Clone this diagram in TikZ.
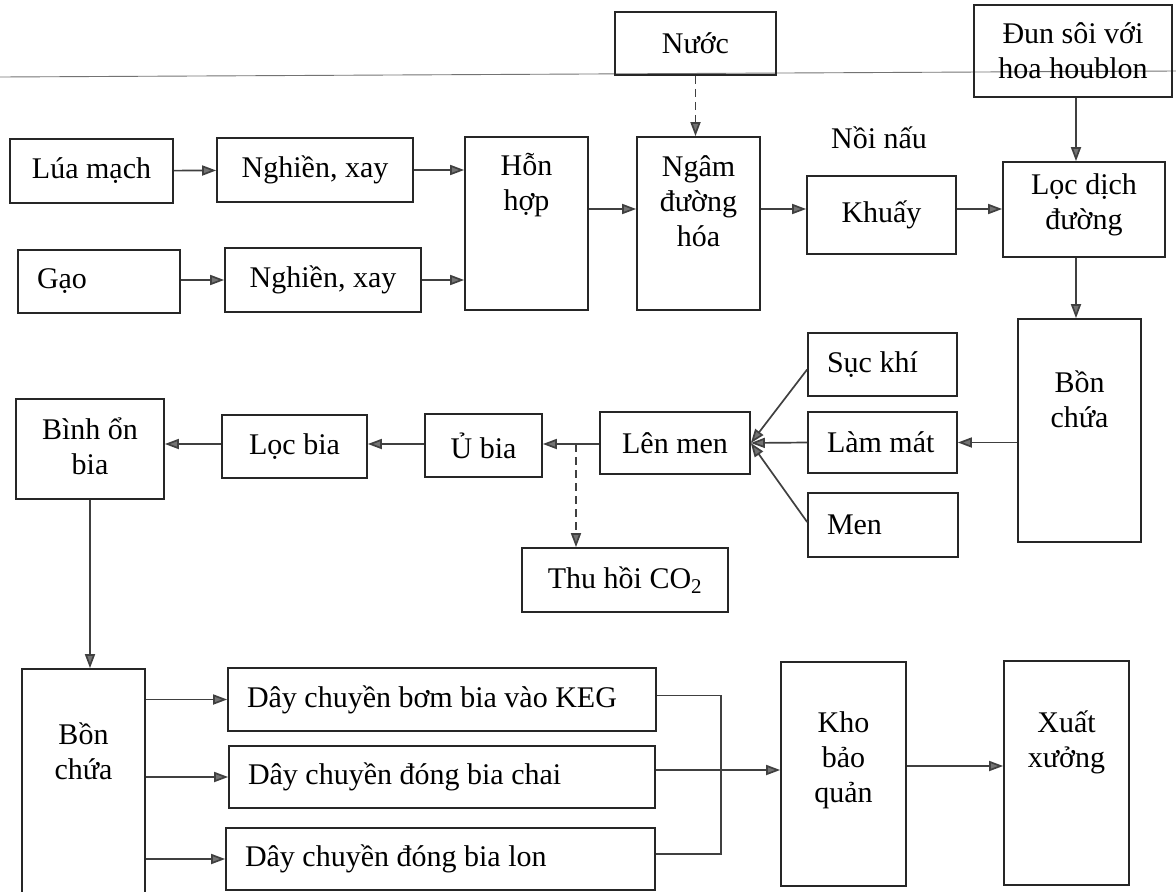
\documentclass[tikz,border=0pt]{standalone}
\usepackage{fontspec}
\setmainfont{Liberation Serif}
\usetikzlibrary{arrows.meta,calc}
\newcommand{\boxfont}{\fontsize{30}{35}\selectfont}
\begin{document}
\begin{tikzpicture}[x=1pt,y=-1pt,
  box/.style={draw=black!85, line width=1.7pt, inner sep=0pt, font=\boxfont, align=center,
    execute at begin node={\spaceskip=0pt\xspaceskip=0pt}},
  lbox/.style={box, align=flush left, inner xsep=19pt},
  txt/.style={font=\boxfont, align=center, inner sep=0pt,
    execute at begin node={\spaceskip=0pt\xspaceskip=0pt}},
  arr/.style={draw=black!75, line width=1.7pt, -{Triangle[length=14pt,width=10pt,fill=black!55]}},
  ln/.style={draw=black!75, line width=1.7pt},
]
\useasboundingbox (0,0) rectangle (1176,892);
% scan line
\draw[black!55, line width=0.9pt] (0,77) -- (1176,71);

% row 1
\node[box, minimum width=163pt, minimum height=64pt] (lua) at (91.5,171) {Lúa mạch};
\node[box, minimum width=196pt, minimum height=64pt] (ngh1) at (315,170) {Nghiền, xay};
\node[box, minimum width=123pt, minimum height=173pt] (hon) at (526.5,223.5) {};
\node[txt] (hont) at (526.5,185) {Hỗn\\hợp};
\node[lbox, minimum width=162pt, minimum height=63pt, text width=124pt] (gao) at (99,281.5) {Gạo};
\node[box, minimum width=196pt, minimum height=64pt] (ngh2) at (323,280) {Nghiền, xay};
\node[box, minimum width=161pt, minimum height=63pt] (nuoc) at (695.5,43.5) {Nước};
\node[box, minimum width=198pt, minimum height=92pt] (dun) at (1073,51) {Đun sôi với\\hoa houblon};
\node[box, minimum width=123pt, minimum height=173pt] (ngam) at (698.5,223.5) {};
\node[txt] (ngamt) at (698.5,201) {Ngâm\\đường\\hóa};
\node[txt] (noi) at (879,138) {Nồi nấu};
\node[box, minimum width=149pt, minimum height=78pt] (khuay) at (881.5,215) {Khuấy};
\node[box, minimum width=162pt, minimum height=95pt] (loc) at (1084,209.5) {};
\node[txt] (loct) at (1084,205) {Lọc dịch\\đường};

% row 2
\node[box, minimum width=123pt, minimum height=223pt] (bon1) at (1079.5,430.5) {};
\node[txt] (bon1t) at (1079.5,399) {Bồn\\chứa};
\node[lbox, minimum width=149pt, minimum height=63pt, text width=111pt] (suc) at (882.5,364.5) {Sục khí};
\node[lbox, minimum width=149pt, minimum height=61pt, text width=111pt] (lam) at (882.5,442.5) {Làm mát};
\node[lbox, minimum width=150pt, minimum height=64pt, text width=112pt] (men) at (883,525) {Men};
\node[box, minimum width=150pt, minimum height=62pt] (lenmen) at (675,443) {Lên men};
\node[box, minimum width=117pt, minimum height=63pt] (ubia) at (483.5,445.5) {Ủ bia};
\node[box, minimum width=145pt, minimum height=63pt] (locbia) at (294.5,446.5) {Lọc bia};
\node[box, minimum width=148pt, minimum height=100pt] (binh) at (90,449) {};
\node[txt] (binht) at (90,446) {Bình ổn\\bia};
\node[box, minimum width=206pt, minimum height=64pt] (thu) at (625,580) {Thu hồi CO\textsubscript{2}};

% row 3
\node[box, minimum width=123pt, minimum height=231pt] (bon2) at (83.5,784.5) {};
\node[txt] (bon2t) at (83.5,751) {Bồn\\chứa};
\node[lbox, minimum width=428pt, minimum height=63pt, text width=390pt] (keg) at (442,699.5) {Dây chuyền bơm bia vào KEG};
\node[lbox, minimum width=426pt, minimum height=62pt, text width=388pt] (chai) at (442,777) {Dây chuyền đóng bia chai};
\node[lbox, minimum width=429pt, minimum height=62pt, text width=391pt] (lon) at (440.5,859) {Dây chuyền đóng bia lon};
\node[box, minimum width=125pt, minimum height=224pt] (kho) at (843.5,774) {};
\node[txt] (khot) at (843.5,760) {Kho\\bảo\\quản};
\node[box, minimum width=125pt, minimum height=224pt] (xuat) at (1066.5,773) {};
\node[txt] (xuatt) at (1066.5,742) {Xuất\\xưởng};

% helper coordinates
\coordinate (r1) at (0,209);
\coordinate (r2) at (0,444);
\coordinate (vx) at (1076,0);
\coordinate (tap) at (576,444);
\coordinate (bx) at (721,0);

% connectors row 1
\draw[arr] (lua) -- (ngh1);
\draw[arr] (ngh1.east) -- (ngh1.east -| hon.west);
\draw[arr] (gao.east |- ngh2) -- (ngh2.west);
\draw[arr] (ngh2.east) -- (ngh2.east -| hon.west);
\draw[arr] (hon.east |- r1) -- (ngam.west |- r1);
\draw[arr] (ngam.east |- r1) -- (khuay.west |- r1);
\draw[arr] (khuay.east |- r1) -- (loc.west |- r1);
\draw[arr, dash pattern=on 8pt off 5pt] (nuoc.south) -- (nuoc.south |- ngam.north);
\draw[arr] (dun.south -| vx) -- (loc.north -| vx);
\draw[arr] (loc.south -| vx) -- (bon1.north -| vx);

% row 2
\draw[arr] (bon1.west |- lam) -- (lam.east);
\draw[arr] (lam.west) -- (lenmen.east);
\draw[arr] ([yshift=-5pt]suc.west) -- (lenmen.east);
\draw[arr] ([yshift=3pt]men.west) -- (lenmen.east);
\draw[arr] (lenmen.west |- r2) -- (ubia.east |- r2);
\draw[arr] (ubia.west |- r2) -- (locbia.east |- r2);
\draw[arr] (locbia.west |- r2) -- (binh.east |- r2);
\draw[arr, dash pattern=on 8pt off 5pt] (tap) -- (tap |- thu.north);
\draw[arr] (binh.south) -- (binh.south |- bon2.north);

% row 3
\draw[arr] (bon2.east |- keg) -- (keg.west);
\draw[arr] (bon2.east |- chai) -- (chai.west);
\draw[arr] (bon2.east |- lon) -- (lon.west);
\draw[ln] ([yshift=4pt]keg.east) -- ([yshift=4pt]keg.east -| bx) -- ([yshift=5pt]lon.east -| bx) -- ([yshift=5pt]lon.east);
\draw[arr] ([yshift=7pt]chai.east) -- ([yshift=7pt]chai.east -| kho.west);
\draw[arr] ([yshift=8pt]kho.east) -- ([yshift=8pt]kho.east -| xuat.west);
\end{tikzpicture}
\end{document}
